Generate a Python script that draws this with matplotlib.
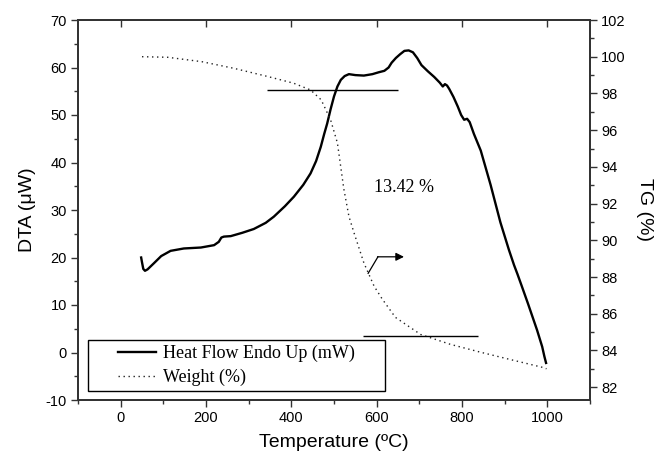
import matplotlib
matplotlib.use('Agg')
import matplotlib.pyplot as plt
from matplotlib.patches import Rectangle
from matplotlib.ticker import MultipleLocator

sans = ['Liberation Sans', 'DejaVu Sans']
serif = ['Liberation Serif', 'DejaVu Serif']
plt.rcParams['font.family'] = sans
plt.rcParams['axes.unicode_minus'] = False

# DTA curve, left axis
dta_temp = [48, 50, 53, 57, 63, 78, 95, 117, 148, 188, 219, 230, 236, 242, 258, 285,
            312, 340, 359, 385, 406, 428, 445, 458, 469, 477, 484, 492, 500, 508, 516,
            525, 535, 550, 570, 590, 605, 618, 628, 635, 645, 655, 665, 675, 685, 695,
            705, 720, 735, 748, 755, 760, 765, 770, 780, 790, 798, 805, 812, 818, 828,
            844, 867, 890, 910, 922, 930, 940, 955, 976, 988, 993, 997]
dta_flow = [20.0, 19.0, 17.6, 17.2, 17.5, 18.8, 20.3, 21.4, 21.9, 22.1, 22.6, 23.3, 24.2,
            24.4, 24.5, 25.2, 26.0, 27.3, 28.6, 30.8, 32.8, 35.3, 37.7, 40.3, 43.3, 46.0,
            48.2, 51.2, 53.9, 56.0, 57.4, 58.2, 58.6, 58.4, 58.3, 58.6, 59.0, 59.3, 60.0,
            61.0, 62.0, 62.8, 63.5, 63.6, 63.2, 62.0, 60.5, 59.2, 58.0, 56.8, 56.0, 56.5,
            56.2, 55.5, 53.8, 51.8, 50.0, 49.0, 49.2, 48.5, 46.0, 42.5, 35.3, 27.4, 21.6,
            18.4, 16.5, 14.0, 10.2, 4.7, 1.2, -0.8, -2.2]

# TG curve, right axis
tg_temp = [50, 110, 190, 265, 345, 405, 445, 470, 492, 508, 523, 535, 547, 570, 594,
           613, 644, 703, 773, 844, 914, 992, 998]
tg_weight = [100.0, 99.97, 99.73, 99.37, 98.92, 98.56, 98.19, 97.65, 96.56, 95.3, 92.8,
             91.3, 90.4, 88.77, 87.5, 86.8, 85.8, 84.87, 84.33, 83.9, 83.5, 83.06, 83.0]

# tangent levels of the weight step
step_levels = [98.2, 84.8]
step_start = [342, 569]
step_end = [649, 837]
loss_label = '13.42 %'

fig = plt.figure(figsize=(6.54, 4.57), dpi=100)
ax = fig.add_axes([78 / 654, 1 - 400 / 457, 512 / 654, 380 / 457])
ax2 = ax.twinx()

l1, = ax.plot(dta_temp, dta_flow, color='black', lw=1.7, label='Heat Flow Endo Up (mW)')
l2, = ax2.plot(tg_temp, tg_weight, color='#222222', lw=1.0, ls=(0, (1, 2.6)), label='Weight (%)')
ax2.hlines(step_levels, step_start, step_end, color='black', lw=1.0)

# arrow pointing the dotted curve to the right axis
ax2.plot([580, 603], [88.2, 89.1], color='black', lw=0.9)
ax2.annotate('', xy=(664, 89.1), xytext=(602, 89.1),
             arrowprops=dict(arrowstyle='-|>', color='black', lw=0.9,
                             mutation_scale=12, shrinkA=0, shrinkB=0))
ax2.text(665, 92.9, loss_label, ha='center', va='center', family=serif, fontsize=13)

ax.set_xlim(-100, 1100)
ax.set_ylim(-10, 70)
ax2.set_ylim(81.3, 102)
ax.xaxis.set_major_locator(MultipleLocator(200))
ax.xaxis.set_minor_locator(MultipleLocator(100))
ax.yaxis.set_major_locator(MultipleLocator(10))
ax.yaxis.set_minor_locator(MultipleLocator(5))
ax2.yaxis.set_major_locator(MultipleLocator(2))
ax2.yaxis.set_minor_locator(MultipleLocator(1))

spine_col = '#333333'
for a in (ax, ax2):
    for s in a.spines.values():
        s.set_color(spine_col)
        s.set_linewidth(1.3)
    a.tick_params(which='major', direction='out', length=5, width=1.0,
                  color=spine_col, labelsize=10.5, pad=3)
    a.tick_params(which='minor', direction='out', length=3, width=1.0, color=spine_col)

top = ax.secondary_xaxis('top')
top.xaxis.set_major_locator(MultipleLocator(200))
top.tick_params(direction='in', length=5, width=1.0, color=spine_col, labeltop=False)
top.spines['top'].set_visible(False)

ax.set_xlabel('Temperature (ºC)', fontsize=14)
ax.xaxis.set_label_coords(0.5, -0.113)
ax.xaxis.label.set_va('center')
ax.set_ylabel('DTA (μW)', fontsize=14)
ax.yaxis.set_label_coords(-50 / 512, 0.5)
ax.yaxis.label.set_va('center')
ax2.set_ylabel('TG (%)', fontsize=14, rotation=270)
ax2.yaxis.set_label_coords(567 / 512, 0.5)
ax2.yaxis.label.set_va('center')

# legend box
ax2.add_patch(Rectangle((0.0195, 0.0237), 0.58, 0.134, transform=ax2.transAxes,
                        facecolor='white', edgecolor='black', lw=1.0, zorder=5))
leg = ax2.legend([l1, l2], [l1.get_label(), l2.get_label()], loc='center',
                 bbox_to_anchor=(0.0195 + 0.29, 0.0237 + 0.067), frameon=False,
                 prop={'family': serif, 'size': 13}, handlelength=2.1,
                 handletextpad=0.4, labelspacing=0.35, borderpad=0.2)
leg.set_zorder(6)

fig.savefig('out.png', dpi=100)
